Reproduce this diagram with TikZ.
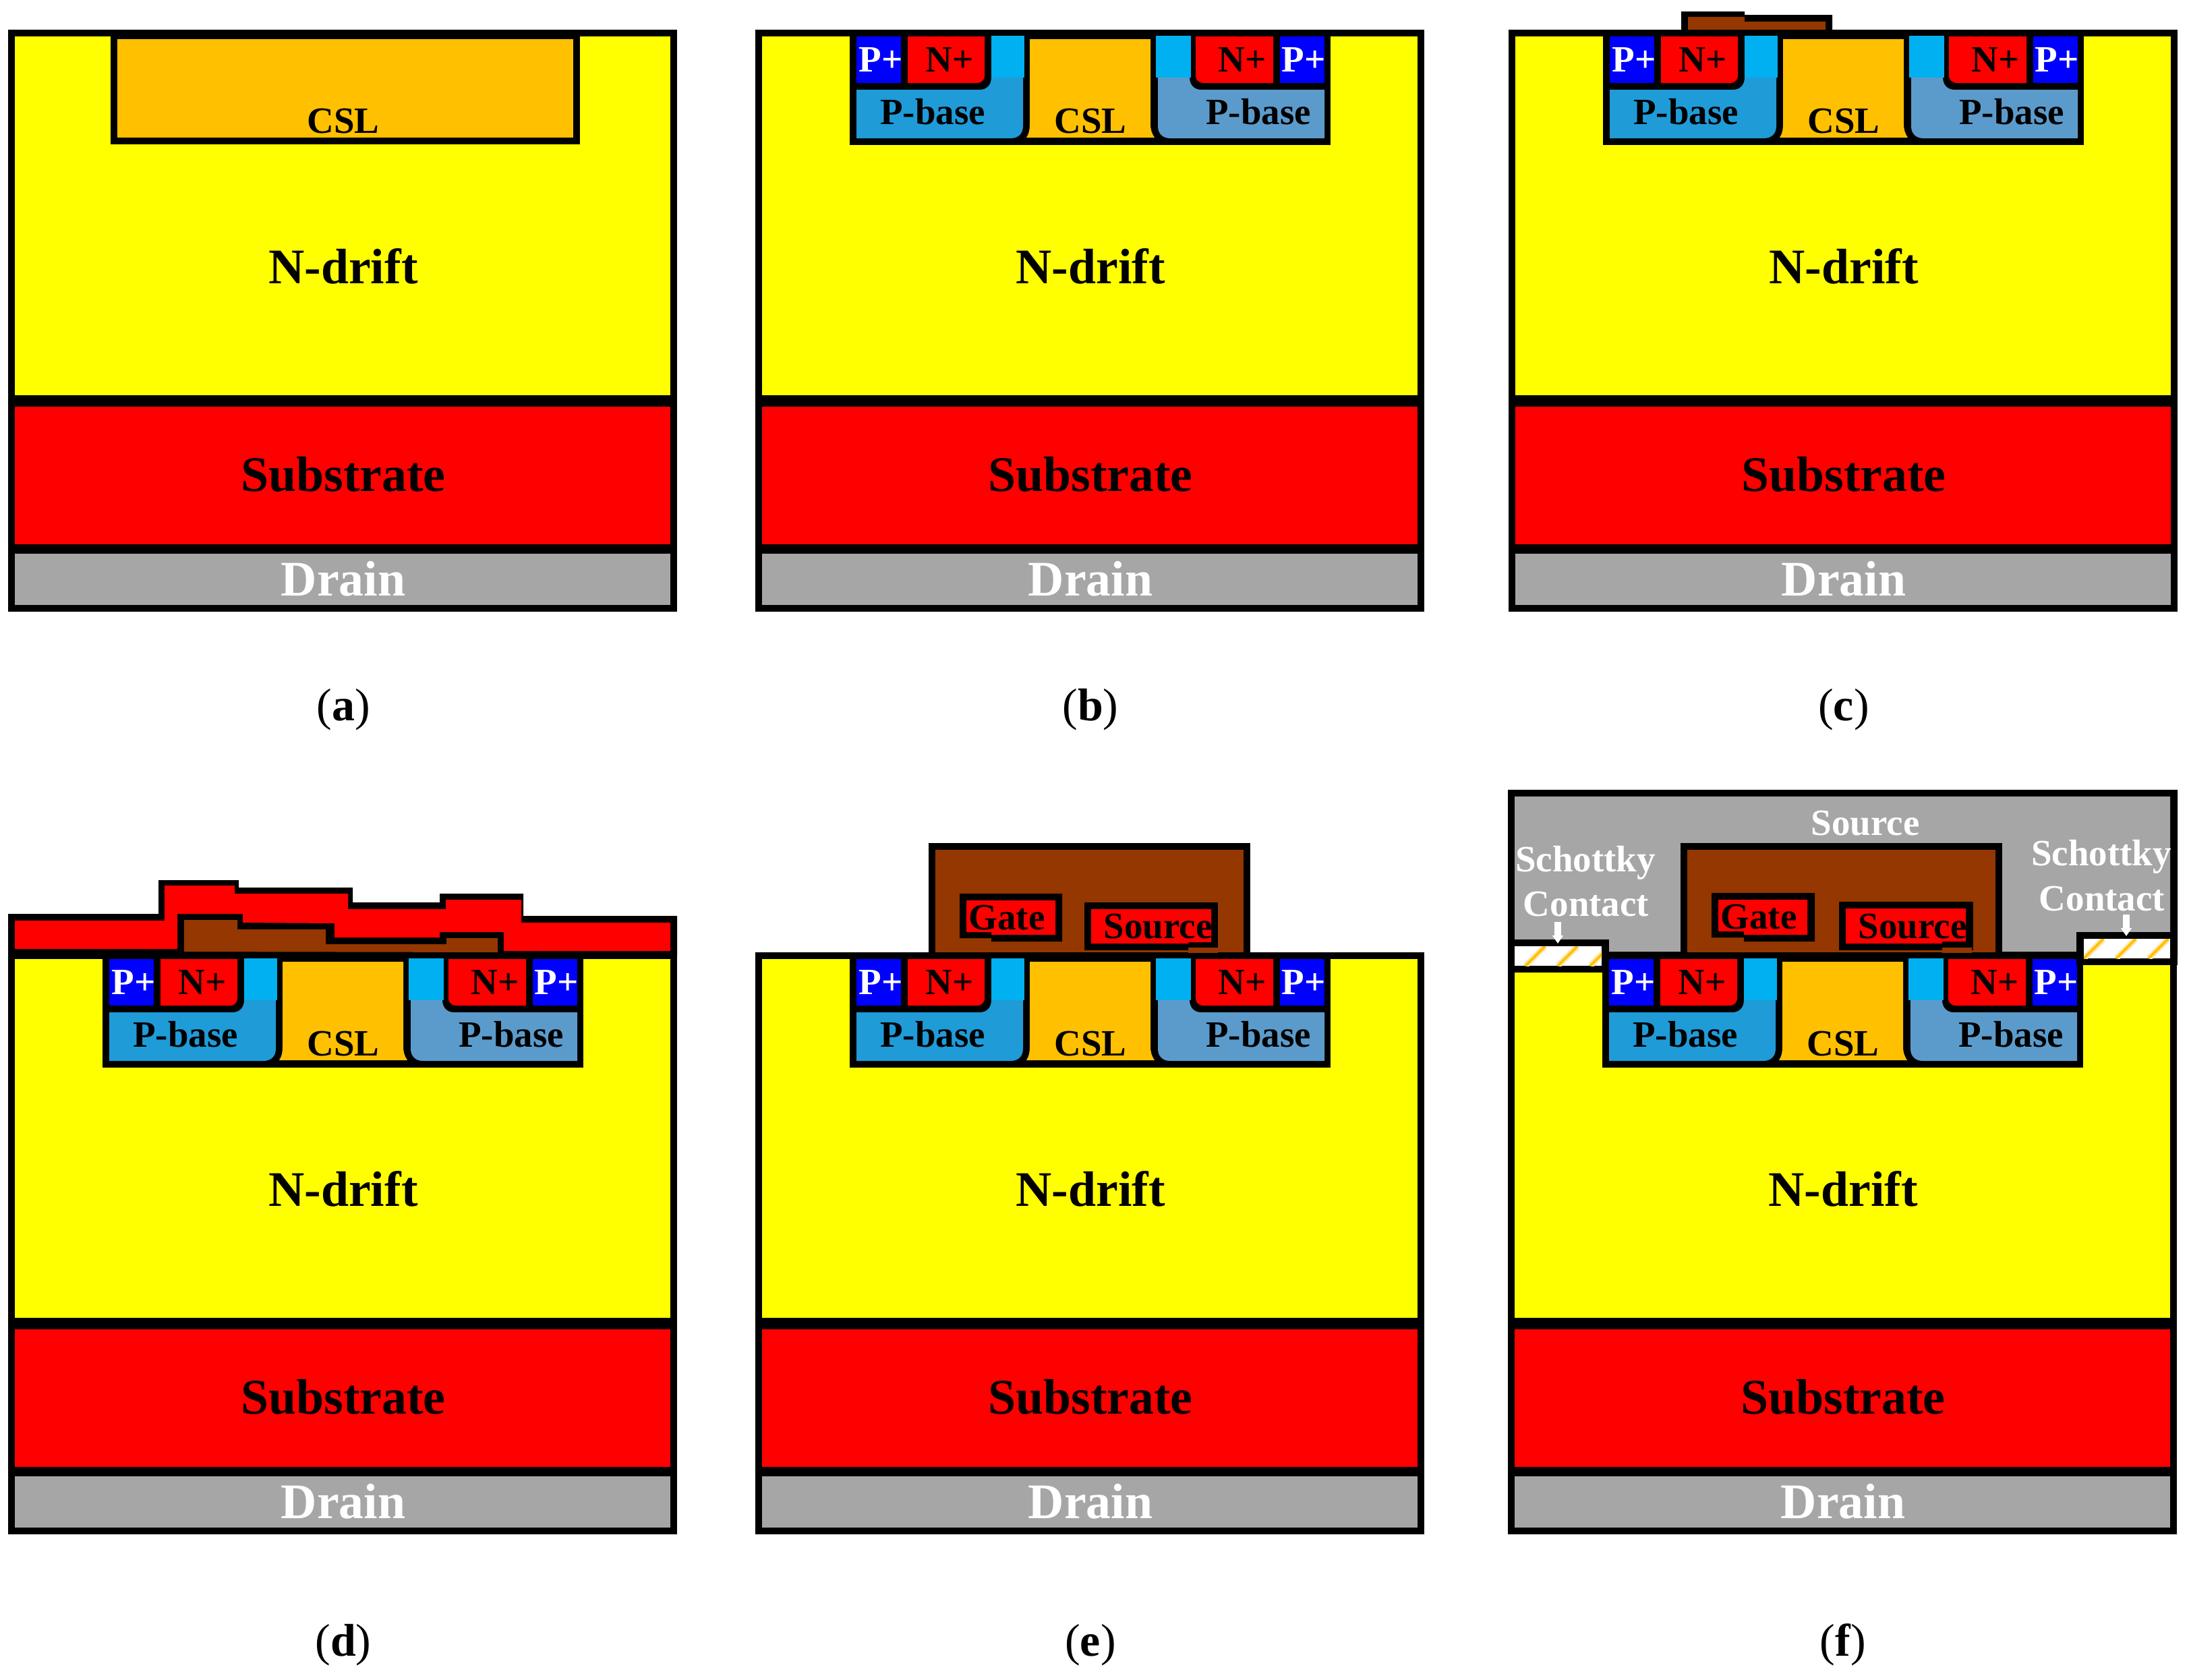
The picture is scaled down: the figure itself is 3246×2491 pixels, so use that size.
\documentclass[tikz,border=0pt]{standalone}
\usepackage{fontspec}
\setmainfont{Liberation Serif}
\usetikzlibrary{arrows.meta}

\definecolor{drift}{HTML}{FFFF00}
\definecolor{implant}{HTML}{FF0000}
\definecolor{pplus}{HTML}{0000FF}
\definecolor{csl}{HTML}{FFC000}
\definecolor{chan}{HTML}{00B0F0}
\definecolor{pbaseL}{HTML}{1F9BD8}
\definecolor{pbaseR}{HTML}{5B9BCB}
\definecolor{poly}{HTML}{943700}
\definecolor{metal}{HTML}{A6A6A6}
\definecolor{glow}{HTML}{FFE9B8}

\tikzset{
  lab/.style={font=\fontsize{15.65}{18}\selectfont\bfseries, inner sep=0pt, anchor=base},
  biglab/.style={font=\fontsize{21}{24}\selectfont\bfseries, inner sep=0pt, anchor=base},
  caplab/.style={font=\fontsize{19.35}{22}\selectfont, inner sep=0pt, anchor=base},
  wlab/.style={lab, text=white},
  hatchcore/.style={draw=csl, line width=1.1pt},
  hatchglow/.style={draw=glow, line width=2.6pt},
  pinarrow/.style={draw=white, line width=3.1pt, -{Triangle[length=3.4pt,width=4.4pt]}}
}

% wafer: drift, substrate, drain
\newcommand{\wafer}[1]{
  \fill[black] (12,44) rectangle (1004,907);
  \fill[drift] (22,54) rectangle (994,586);
  \fill[implant] (22,603) rectangle (994,807);
  \fill[metal] (22,821) rectangle (994,897);
  \node[biglab] (#1drift) at (509,420) {N-drift};
  \node[biglab] (#1sub) at (509,728) {Substrate};
  \node[biglab, text=white] (#1drain) at (509,883) {Drain};
}

% implanted cell under the surface
\newcommand{\devcell}[1]{
  \fill[black] (152,44) rectangle (865,215);
  \fill[pbaseL] (162,133) -- (345,133) .. controls (355,133) and (362,126) .. (362,115)
    -- (409,115) -- (409,187) .. controls (409,198) and (402,205) .. (391,205) -- (162,205) -- cycle;
  \fill[pbaseR] (856,133) -- (673,133) .. controls (663,133) and (656,126) .. (656,115)
    -- (609,115) -- (609,187) .. controls (609,198) and (616,205) .. (627,205) -- (856,205) -- cycle;
  \fill[chan] (362,53) rectangle (411,115);
  \fill[chan] (606,53) rectangle (658,115);
  \fill[csl] (419,58) -- (598,58) -- (598,184) .. controls (598,192) and (600,198) .. (604,204)
    -- (414,204) .. controls (418,198) and (419,192) .. (419,184) -- cycle;
  \fill[pplus] (162,54) rectangle (228,123);
  \fill[pplus] (790,54) rectangle (856,123);
  \fill[implant] (238,54) -- (352,54) -- (352,113) .. controls (352,118) and (347,123) .. (342,123) -- (238,123) -- cycle;
  \fill[implant] (665,54) -- (780,54) -- (780,123) -- (676,123) .. controls (670,123) and (665,118) .. (665,113) -- cycle;
  \node[wlab] (#1pl) at (198,106) {P+};
  \node[lab] (#1nl) at (300,106) {N+};
  \node[lab] (#1nr) at (734,106) {N+};
  \node[wlab] (#1pr) at (825,106) {P+};
  \node[lab] (#1bl) at (275,184) {P-base};
  \node[lab] (#1br) at (758,184) {P-base};
  \node[lab] (#1csl) at (509,197) {CSL};
}

\begin{document}
\begin{tikzpicture}[x=0.1mm,y=-0.1mm]
\useasboundingbox (0,0) rectangle (3246,2491);

% (a)
\begin{scope}
\wafer{a}
\fill[black] (164,44) rectangle (860,214);
\fill[csl] (174,58) rectangle (850,204);
\node[lab] (acsl) at (509,197) {CSL};
\node[caplab] (acap) at (509,1068) {(\textbf{a})};
\end{scope}

% (b)
\begin{scope}[shift={(1108,0)}]
\wafer{b}
\devcell{b}
\node[caplab] (bcap) at (509,1068) {(\textbf{b})};
\end{scope}

% (c)
\begin{scope}[shift={(2225,0)}]
\wafer{c}
\devcell{c}
\fill[black] (268,17) -- (362,17) -- (362,22) -- (492,22) -- (492,50) -- (268,50) -- cycle;
\fill[poly] (278,25) -- (362,25) -- (362,32) -- (482,32) -- (482,44) -- (278,44) -- cycle;
\node[caplab] (ccap) at (509,1068) {(\textbf{c})};
\end{scope}

% (d)
\begin{scope}[shift={(0,1368)}]
\wafer{d}
\devcell{d}
\fill[black] (12,50) -- (12,-13) -- (235,-13) -- (235,-63) -- (354,-63) -- (354,-52) -- (523,-52) -- (523,-30)
  -- (652,-30) -- (652,-43) -- (776,-43) -- (776,-10) -- (1004,-10) -- (1004,50) -- cycle;
\fill[implant] (22,-3) -- (244,-3) -- (244,-55) -- (348,-55) -- (348,-43) -- (516,-43) -- (516,-20) -- (661,-20)
  -- (661,-34) -- (773,-34) -- (773,0) -- (994,0) -- (994,42) -- (747,42) -- (747,14) -- (652,14) -- (652,22)
  -- (496,22) -- (496,1) -- (360,0) -- (360,-13) -- (263,-13) -- (263,39) -- (22,39) -- cycle;
\fill[poly] (273,43) -- (273,-4) -- (352,-4) -- (352,10) -- (483,10) -- (483,32) -- (662,32) -- (662,23)
  -- (738,23) -- (738,44) -- cycle;
\node[caplab] (dcap) at (509,1087) {(\textbf{d})};
\end{scope}

% (e)
\begin{scope}[shift={(1108,1368)}]
\wafer{e}
\devcell{e}
\fill[black] (269,-118) rectangle (746,46);
\fill[poly] (279,-108) rectangle (736,44);
% gate window
\fill[black] (315,-43) -- (467,-43) -- (467,28) -- (362,28) -- (362,23) -- (315,23) -- cycle;
\fill[implant] (325,-33) -- (457,-33) -- (457,18) -- (362,18) -- (362,14) -- (325,14) -- cycle;
\node[lab] (egate) at (385,10) {Gate};
% source window
\fill[black] (500,-30) rectangle (698,41);
\fill[implant] (510,-20) -- (688,-20) -- (688,29) -- (654,29) -- (654,31) -- (510,31) -- cycle;
\fill[poly] (654,37) rectangle (698,45);
\node[lab] (esrc) at (609,23) {Source};
\node[caplab] (ecap) at (509,1087) {(\textbf{e})};
\end{scope}

% (f)
\begin{scope}[shift={(2224,1368)}]
\wafer{f}
\devcell{f}
\fill[black] (12,-197) -- (1005,-197) -- (1005,50) -- (855,50) -- (855,44) -- (12,44) -- cycle;
\fill[metal] (22,-187) -- (994,-187) -- (994,14) -- (855,14) -- (855,43) -- (162,43) -- (162,25) -- (22,25) -- cycle;
% left contact
\fill[black] (12,25) rectangle (162,74);
\fill[white] (22,35) rectangle (151,64);
\begin{scope}
\clip (22,35) rectangle (151,64);
\foreach \s in {-10,38,86,134} {
  \draw[hatchglow] (\s,64) -- ++(29,-29);
  \draw[hatchcore] (\s,64) -- ++(29,-29);
}
\end{scope}
% right contact
\fill[black] (855,14) rectangle (1005,63);
\fill[white] (866,24) rectangle (994,53);
\begin{scope}
\clip (866,24) rectangle (994,53);
\foreach \s in {866,914,962} {
  \draw[hatchglow] (\s,53) -- ++(29,-29);
  \draw[hatchcore] (\s,53) -- ++(29,-29);
}
\end{scope}
% gate and source fingers
\fill[black] (268,-118) rectangle (745,46);
\fill[poly] (278,-108) rectangle (735,44);
\fill[black] (314,-44) -- (467,-44) -- (467,28) -- (362,28) -- (362,22) -- (314,22) -- cycle;
\fill[implant] (324,-34) -- (456,-34) -- (456,18) -- (362,18) -- (362,13) -- (324,13) -- cycle;
\node[lab] (fgate) at (384,9) {Gate};
\fill[black] (503,-31) rectangle (702,41);
\fill[implant] (513,-21) -- (691,-21) -- (691,28) -- (656,28) -- (656,31) -- (513,31) -- cycle;
\fill[poly] (656,37) rectangle (700,45);
\node[lab] (fsrc) at (612,23) {Source};
% metal labels
\node[wlab] (ftop) at (542,-130) {Source};
\node[wlab] (fschl) at (127,-76) {Schottky};
\node[wlab] (fconl) at (128,-10) {Contact};
\node[wlab] (fschr) at (892,-85) {Schottky};
\node[wlab] (fconr) at (893,-18) {Contact};
\coordinate (farl) at (86,-1);
\coordinate (farlend) at (86,31);
\coordinate (farr) at (929,-12);
\coordinate (farrend) at (929,20);
\draw[pinarrow] (farl) -- (farlend);
\draw[pinarrow] (farr) -- (farrend);
\node[caplab] (fcap) at (509,1087) {(\textbf{f})};
\end{scope}

\end{tikzpicture}
\end{document}
